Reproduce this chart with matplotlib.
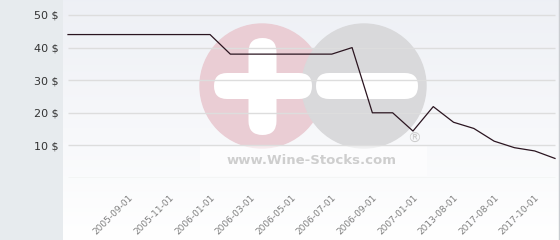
import numpy as np
import matplotlib.pyplot as plt
import matplotlib.transforms as mtransforms
from matplotlib.patches import Circle, FancyBboxPatch

# --- DATA ---
DATES = ["2005-06-01", "2005-07-01", "2005-08-01", "2005-09-01", "2005-10-01",
         "2005-11-01", "2005-12-01", "2006-01-01", "2006-02-01", "2006-03-01",
         "2006-04-01", "2006-05-01", "2006-06-01", "2006-07-01", "2006-08-01",
         "2006-09-01", "2006-11-01", "2007-01-01", "2010-01-01", "2013-08-01",
         "2015-08-01", "2017-08-01", "2017-09-01", "2017-10-01", "2017-11-01"]
PRICES = [44, 44, 44, 44, 44, 44, 44, 44, 38, 38,
          38, 38, 38, 38, 40, 20, 20, 14.4, 21.9, 17.1,
          15.2, 11.3, 9.3, 8.3, 6.0]
Y_TICKS = [10, 20, 30, 40, 50]
Y_LABELS = ["10 $", "20 $", "30 $", "40 $", "50 $"]

W, H = 560, 240
fig = plt.figure(figsize=(W / 100, H / 100), dpi=100, facecolor="#e7ebee")

# --- background + watermark, drawn in pixel coordinates ---
bg = fig.add_axes([0, 0, 1, 1])
bg.set_xlim(0, W)
bg.set_ylim(H, 0)
bg.axis("off")
grad = np.linspace(0, 1, 256)[:, None]
top = np.array([0.933, 0.941, 0.961])
bottom = np.array([1.0, 1.0, 1.0])
img = top + (bottom - top) * grad[..., None]
bg.imshow(img, extent=[63, 559, H, 0], aspect="auto", zorder=0)
bg.plot([558.5, 558.5], [0, H], color="#c9ccd0", lw=1, zorder=1)

bg.add_patch(Circle((262, 86), 62, color="#eacdd4", zorder=2))
bg.add_patch(Circle((364, 86), 62, color="#d9d9db", zorder=3))
bg.add_patch(FancyBboxPatch((214, 73), 98, 26, boxstyle="round,pad=0,rounding_size=13",
                            fc="white", ec="none", zorder=4))
bg.add_patch(FancyBboxPatch((248.5, 38), 28, 97, boxstyle="round,pad=0,rounding_size=14",
                            fc="white", ec="none", zorder=4))
bg.add_patch(FancyBboxPatch((316, 73), 102, 26, boxstyle="round,pad=0,rounding_size=13",
                            fc="white", ec="none", zorder=4))
bg.add_patch(FancyBboxPatch((200, 146), 227, 30, boxstyle="square,pad=0",
                            fc="white", ec="none", alpha=0.6, zorder=4))
bg.text(312, 161, "www.Wine-Stocks.com", ha="center", va="center", fontsize=9.5,
        fontweight="bold", color="#cecece", zorder=5)
bg.text(414, 139, "®", ha="center", va="center", fontsize=10, color="#cccccc", zorder=5)

# --- chart ---
ax = fig.add_axes([63 / W, 62 / H, 496 / W, 178 / H])
ax.patch.set_alpha(0)
x = np.arange(len(PRICES))
px = 487 / (len(PRICES) - 1)
ax.set_xlim(-5 / px, len(PRICES) - 1 + 4 / px)
ax.set_ylim(0, 50 + 15 / 3.26)

ax.hlines([0] + Y_TICKS, 0, len(PRICES) - 1, colors="#dddddd", lw=1, zorder=1)
ax.plot(x, PRICES, color="#2b1520", lw=0.9, zorder=3)

ax.set_yticks(Y_TICKS)
ax.set_yticklabels(Y_LABELS, fontsize=8, color="#333333")
shown = list(range(3, len(DATES), 2))
ax.set_xticks(shown)
ax.set_xticklabels([DATES[i] for i in shown], rotation=45, ha="right",
                   rotation_mode="anchor", fontsize=6.5, color="#808080")
shift = mtransforms.ScaledTranslation(-0.04, 0.02, fig.dpi_scale_trans)
for lbl in ax.get_xticklabels():
    lbl.set_transform(lbl.get_transform() + shift)
ax.tick_params(axis="both", length=0)
ax.tick_params(axis="x", pad=11)
ax.tick_params(axis="y", pad=3)
for s in ax.spines.values():
    s.set_visible(False)

fig.savefig("out.png", dpi=100, facecolor=fig.get_facecolor())
